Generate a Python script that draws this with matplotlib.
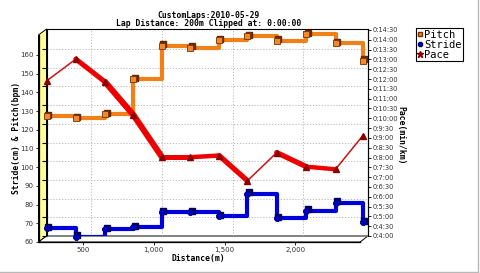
import matplotlib
matplotlib.use("Agg")
import matplotlib.pyplot as plt
from matplotlib.patches import Polygon
from matplotlib.lines import Line2D
from matplotlib.collections import LineCollection
from matplotlib.transforms import offset_copy
import numpy as np

# ---- data ----
distance = [186, 393, 600, 800, 1002, 1202, 1405, 1605, 1812, 2020, 2227, 2418]
pitch = [124, 123, 125, 144, 161.7, 160.7, 164.8, 166.8, 164.5, 168, 163, 153.7]
stride = [64.1, 59.6, 63.7, 64.6, 72.7, 72.7, 70.5, 82.7, 69.5, 73.5, 77.8, 67.3]
pace_sec = [714, 781, 711, 610, 481, 481, 486, 409, 495, 452, 444, 546]
pace_widths = [1.1, 3.6, 4.4, 4.4, 3.6, 3.2, 3.8, 1.1, 3.8, 3.2, 1.1]
left_ticks = list(range(60, 161, 10))
x_ticks = [500, 1000, 1500, 2000]
pace_ticks = list(range(240, 871, 30))
title1 = "CustomLaps:2010-05-29"
title2 = "Lap Distance: 200m Clipped at: 0:00:00"

W, H = 480, 273
def fx(x): return x / W
def fy(y): return 1 - y / H

fig = plt.figure(figsize=(4.8, 2.73), dpi=100)
fig.patch.set_facecolor("white")

L, R, T, B = 46.5, 368, 29, 236
DX, DY = 8, 6
xlim = (186, 186 + (R - L) / 0.1416)
ylim_l = (60, 60 + (B - T) / 1.87)
ylim_r = (240, 240 + (B - T) / 0.327)

# 3D wall and floor
wall = Polygon([(fx(L - DX), fy(B + DY)), (fx(L - DX), fy(T + DY)), (fx(L), fy(T)), (fx(L), fy(B))],
               closed=True, facecolor="#ffff99", edgecolor="black", lw=0.7,
               transform=fig.transFigure, zorder=-2)
floor = Polygon([(fx(L - DX), fy(B + DY)), (fx(R - DX), fy(B + DY)), (fx(R), fy(B)), (fx(L), fy(B))],
                closed=True, facecolor="white", edgecolor="black", lw=0.7,
                transform=fig.transFigure, zorder=-2)
fig.patches.extend([wall, floor])

ax = fig.add_axes([fx(L), fy(B), (R - L) / W, (B - T) / H])
ax.set_xlim(*xlim)
ax.set_ylim(*ylim_l)
ax.set_facecolor("none")
for s in ["top", "right", "left"]:
    ax.spines[s].set_color("black")
    ax.spines[s].set_linewidth(0.8)
ax.spines["bottom"].set_color("#888888")
ax.spines["bottom"].set_linewidth(0.6)
ax.set_xticks(x_ticks)
ax.set_yticks(left_ticks)
ax.tick_params(left=False, bottom=False, labelleft=False, labelbottom=False)
ax.grid(True, color="#b8b8b8", linestyle=(0, (1.2, 1.8)), linewidth=0.7)

# pitch
ax.step(distance, pitch, where="post", color="#f08018", lw=3.0, solid_capstyle="butt", zorder=3)
sh = offset_copy(ax.transData, fig=fig, x=1.0, y=1.0, units="points")
ax.plot(distance, pitch, "s", color="#6a2800", ms=4.2, transform=sh, zorder=4, clip_on=False)
ax.plot(distance, pitch, "s", mfc="#f08a28", mec="#7a3000", mew=0.6, ms=4.2, zorder=5, clip_on=False)

# stride
ax.step(distance, stride, where="post", color="#0000dd", lw=3.0, zorder=3)
ax.plot(distance, stride, "s", color="#000060", ms=4.4, transform=sh, zorder=4, clip_on=False)
ax.plot(distance, stride, "8", mfc="#0000cc", mec="#000070", mew=0.6, ms=5.0, zorder=5, clip_on=False)

# pace
ax2 = ax.twinx()
ax2.set_ylim(*ylim_r)
ax2.set_facecolor("none")
pts = np.column_stack([distance, pace_sec])
segs = [pts[i:i + 2] for i in range(len(pts) - 1)]
cols = ["#cc1111" if w < 2 else "#ee0000" for w in pace_widths]
lc = LineCollection(segs, linewidths=pace_widths, colors=cols, capstyle="round", zorder=3)
ax2.add_collection(lc)
ax2.plot(distance, pace_sec, "^", color="#8a0000", ms=4.2, zorder=5, clip_on=False)
ax2.set_yticks(pace_ticks)
ax2.set_yticklabels([f"0:{t // 60}:{t % 60:02d}" for t in pace_ticks])
ax2.tick_params(axis="y", direction="out", length=2.5, width=0.6, pad=1, labelsize=4.8)
for s in ["top", "left", "bottom"]:
    ax2.spines[s].set_visible(False)
ax2.spines["right"].set_linewidth(0.8)

# front axes (left & bottom)
axf = fig.add_axes([fx(L - DX), fy(B + DY), (R - L) / W, (B - T) / H])
axf.patch.set_visible(False)
axf.set_xlim(*xlim)
axf.set_ylim(*ylim_l)
for s in ["top", "right"]:
    axf.spines[s].set_visible(False)
axf.spines["left"].set_linewidth(0.9)
axf.spines["bottom"].set_linewidth(0.9)
axf.set_yticks(left_ticks)
axf.set_xticks(x_ticks)
axf.set_xticklabels([f"{v:,}" for v in x_ticks])
axf.tick_params(axis="y", direction="out", length=2.5, width=0.6, pad=1, labelsize=5)
axf.tick_params(axis="x", direction="out", length=2, width=0.6, pad=1.5, labelsize=5)
for lab in axf.get_xticklabels() + axf.get_yticklabels() + ax2.get_yticklabels():
    lab.set_color("#333333")

# titles & labels
mono = dict(family="DejaVu Sans Mono", weight="bold", size=5.8)
fig.text(fx(209), fy(15), title1, ha="center", va="center", **mono)
fig.text(fx(209), fy(23), title2, ha="center", va="center", **mono)
fig.text(fx(17), fy(138), "Stride(cm) & Pitch(bpm)", rotation=90, ha="center", va="center", **mono)
fig.text(fx(401), fy(135), "Pace(min/km)", rotation=-90, ha="center", va="center", **mono)
fig.text(fx(198), fy(258), "Distance(m)", ha="center", va="center", **mono)

# legend
handles = [
    Line2D([], [], ls="none", marker="s", mfc="#f08a28", mec="#7a3000", ms=3.5),
    Line2D([], [], ls="none", marker="8", mfc="#0000cc", mec="#000070", ms=3.8),
    Line2D([], [], ls="none", marker="*", color="#8a0000", ms=4.5),
]
leg = fig.legend(handles, ["Pitch", "Stride", "Pace"], loc="upper left",
                 bbox_to_anchor=(fx(416), fy(28)), frameon=True, fancybox=False,
                 edgecolor="black", borderpad=0.15, handlelength=0.5, handletextpad=0.15,
                 labelspacing=0.0, borderaxespad=0, prop=dict(family="DejaVu Sans Mono", size=7.5),
                 shadow={"shade": 0.0, "alpha": 1})
leg.get_frame().set_linewidth(0.8)

# outer frame
fig.add_artist(Line2D([fx(477.5), fx(477.5)], [fy(0), fy(271.5)], color="#b8b8b8", lw=1, transform=fig.transFigure))
fig.add_artist(Line2D([fx(0), fx(477.5)], [fy(271.5), fy(271.5)], color="#b8b8b8", lw=1, transform=fig.transFigure))

fig.savefig("out.png", dpi=100)
